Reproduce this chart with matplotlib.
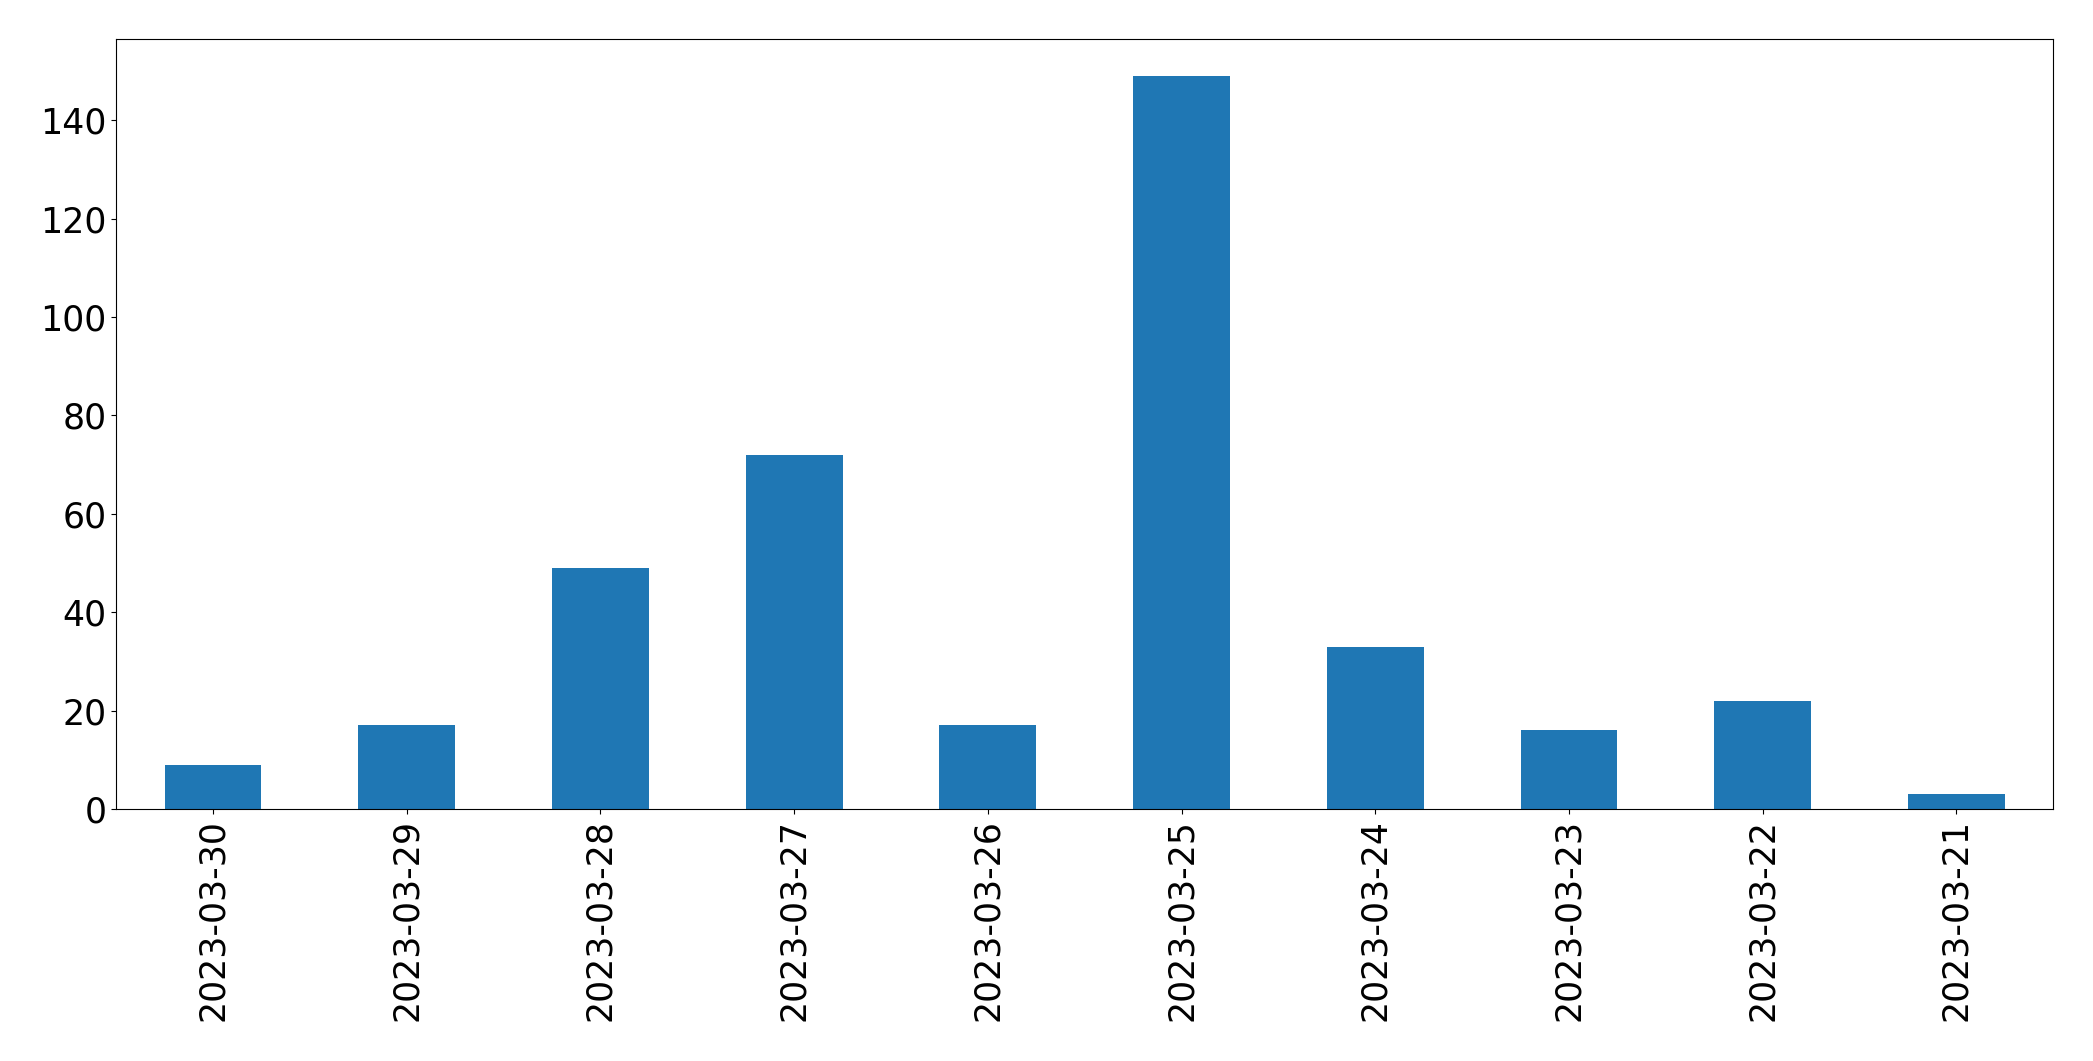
import matplotlib
matplotlib.use("Agg")
import matplotlib.pyplot as plt
import numpy as np

# daily counts, newest first
dates = ["2023-03-30", "2023-03-29", "2023-03-28", "2023-03-27", "2023-03-26",
         "2023-03-25", "2023-03-24", "2023-03-23", "2023-03-22", "2023-03-21"]
counts = [9, 17, 49, 72, 17, 149, 33, 16, 22, 3]

fig = plt.figure(figsize=(20.93, 10.61), dpi=100)
ax = fig.add_axes([0.0555, 0.2375, 0.9255, 0.7255])

x = np.arange(len(dates))
ax.bar(x, counts, width=0.5, color="#1f77b4")
ax.set_xlim(-0.5, len(dates) - 0.5)
ax.set_xticks(x)
ax.set_xticklabels(dates, rotation=90, fontsize=25)
ax.tick_params(axis="y", labelsize=25)

plt.savefig("out.png", dpi=100)
